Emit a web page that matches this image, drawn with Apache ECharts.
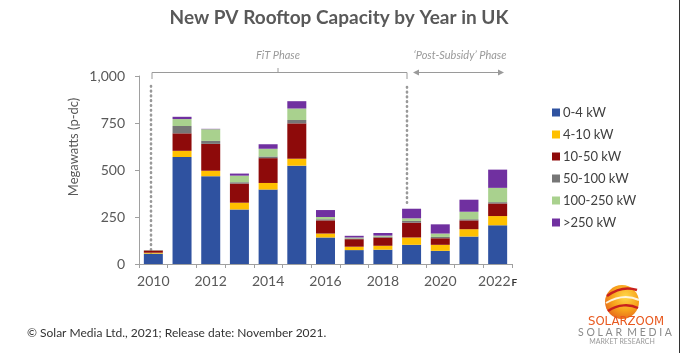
<!DOCTYPE html>
<html>
<head>
<meta charset="utf-8">
<script src="https://cdn.jsdelivr.net/npm/echarts@6/dist/echarts.min.js"></script>
<style>
  html, body { margin: 0; padding: 0; background: #fff; }
  #chart { width: 680px; height: 353px; }
</style>
</head>
<body>
<div id="chart"></div>
<script>
'use strict';
// 数据
const years = ['2010', '2011', '2012', '2013', '2014', '2015', '2016', '2017', '2018', '2019', '2020', '2021', '2022F'];
const kw0_4 = [55, 569, 467, 290, 396, 523, 141, 74, 76, 102, 70, 146, 206];
const kw4_10 = [5, 33, 29, 36, 35, 37, 21, 18, 21, 39, 32, 39, 49];
const kw10_50 = [12, 93, 143, 102, 132, 188, 70, 40, 44, 79, 35, 47, 67];
const kw50_100 = [1, 39, 16, 7, 9, 18, 6, 4, 4, 9, 7, 6, 7];
const kw100_250 = [1, 37, 62, 35, 41, 61, 12, 5, 6, 14, 18, 40, 76];
const kw250 = [0, 12, 2, 11, 24, 39, 37, 9, 14, 51, 49, 64, 97];
const yTicks = [0, 250, 500, 750, 1000];

const seriesList = [
    { name: '0-4 kW', data: kw0_4, color: '#2F52A0' },
    { name: '4-10 kW', data: kw4_10, color: '#FFC000' },
    { name: '10-50 kW', data: kw10_50, color: '#8E0A0A' },
    { name: '50-100 kW', data: kw50_100, color: '#767676' },
    { name: '100-250 kW', data: kw100_250, color: '#A9D18E' },
    { name: '>250 kW', data: kw250, color: '#7030A0' }
];

const FONT = 'Lato, "Open Sans", sans-serif';
const grey = '#595959';
const annot = '#9a9a9a';

let myChart = echarts.init(document.getElementById('chart'));

let option = {
    animation: false,
    textStyle: { fontFamily: FONT },
    title: {
        text: 'New PV Rooftop Capacity by Year in UK',
        left: 334,
        top: 3,
        textAlign: 'center',
        textStyle: { fontSize: 19, fontWeight: 'bold', color: grey, fontFamily: FONT }
    },
    legend: {
        orient: 'vertical',
        left: 547,
        top: 101,
        itemWidth: 8,
        itemHeight: 8,
        itemGap: 9,
        icon: 'rect',
        textStyle: { fontSize: 13, color: '#404040', fontFamily: FONT, padding: [0, 0, 0, -2] },
        data: seriesList.map(s => s.name)
    },
    grid: { left: 139, right: 168, top: 76, bottom: 89 },
    xAxis: {
        type: 'category',
        data: years,
        axisLine: { lineStyle: { color: '#a0a0a0', width: 1 } },
        axisTick: { show: true, interval: 0, length: 4, lineStyle: { color: '#a0a0a0' } },
        axisLabel: {
            interval: 1,
            margin: 10,
            fontSize: 14,
            color: grey,
            fontFamily: FONT,
            formatter: function(v) {
                if (v === '2022F') return '{y|2022}{f|F}';
                return '{y|' + v + '}';
            },
            rich: {
                y: { fontSize: 14, color: grey, fontFamily: FONT },
                f: { fontSize: 10, fontWeight: 'bold', color: '#333', fontFamily: FONT, padding: [3, 0, 0, 1] }
            }
        }
    },
    yAxis: {
        type: 'value',
        min: yTicks[0],
        max: yTicks[yTicks.length - 1],
        interval: yTicks[1] - yTicks[0],
        axisLine: { show: true, lineStyle: { color: '#a0a0a0' } },
        axisTick: { show: true, length: 4, lineStyle: { color: '#a0a0a0' } },
        splitLine: { show: false },
        axisLabel: {
            fontSize: 14,
            color: grey,
            margin: 14,
            fontFamily: FONT,
            formatter: function(v) {
                return v.toLocaleString('en-US');
            }
        }
    },
    series: seriesList.map(function(s) {
        return {
            name: s.name,
            type: 'bar',
            stack: 'total',
            barWidth: 19,
            data: s.data,
            itemStyle: { color: s.color }
        };
    }),
    graphic: [
        // 纵轴标题
        {
            type: 'text',
            x: 74,
            y: 147,
            rotation: Math.PI / 2,
            style: {
                text: 'Megawatts (p-dc)',
                fontSize: 13,
                fill: grey,
                fontFamily: FONT,
                align: 'center',
                verticalAlign: 'middle'
            }
        },
        // FiT 阶段
        {
            type: 'text',
            x: 278, y: 55,
            style: { text: 'FiT Phase', fontSize: 11, fontStyle: 'italic', fill: annot, fontFamily: FONT, align: 'center', verticalAlign: 'middle' }
        },
        {
            type: 'polyline',
            shape: { points: [[152, 79], [152, 72.5], [407, 72.5], [407, 79]] },
            style: { stroke: annot, lineWidth: 1, fill: null }
        },
        {
            type: 'line',
            shape: { x1: 278, y1: 72.5, x2: 278, y2: 68 },
            style: { stroke: annot, lineWidth: 1 }
        },
        // 补贴后阶段
        {
            type: 'text',
            x: 460, y: 55,
            style: { text: '\u2018Post-Subsidy\u2019 Phase', fontSize: 11, fontStyle: 'italic', fill: annot, fontFamily: FONT, align: 'center', verticalAlign: 'middle' }
        },
        {
            type: 'line',
            shape: { x1: 416, y1: 72.5, x2: 501, y2: 72.5 },
            style: { stroke: annot, lineWidth: 1 }
        },
        {
            type: 'polygon',
            shape: { points: [[413, 72.5], [419, 69.5], [419, 75.5]] },
            style: { fill: annot }
        },
        {
            type: 'polygon',
            shape: { points: [[504, 72.5], [498, 69.5], [498, 75.5]] },
            style: { fill: annot }
        },
        // 虚线
        {
            type: 'line',
            shape: { x1: 151, y1: 86, x2: 151, y2: 262 },
            style: { stroke: '#999', lineWidth: 2.6, lineDash: [0.6, 4.2], lineCap: 'round' }
        },
        {
            type: 'line',
            shape: { x1: 407, y1: 87, x2: 407, y2: 204 },
            style: { stroke: '#999', lineWidth: 2.6, lineDash: [0.6, 4.2], lineCap: 'round' }
        },
        // 页脚
        {
            type: 'text',
            x: 27, y: 333,
            style: { text: '\u00a9 Solar Media Ltd., 2021; Release date: November 2021.', fontSize: 12, fill: '#333', fontFamily: FONT, verticalAlign: 'middle' }
        },
        // logo
        {
            type: 'circle',
            shape: { cx: 622, cy: 302, r: 17 },
            style: {
                fill: new echarts.graphic.RadialGradient(0.6, 0.35, 0.8, [
                    { offset: 0, color: '#ffd84a' },
                    { offset: 0.5, color: '#f7a21b' },
                    { offset: 1, color: '#e0531c' }
                ])
            }
        },
        {
            type: 'bezierCurve',
            shape: { x1: 607, y1: 296, x2: 637, y2: 290, cpx1: 618, cpy1: 288, cpx2: 628, cpy2: 287 },
            style: { stroke: '#c8201e', lineWidth: 2.5, fill: null }
        },
        {
            type: 'bezierCurve',
            shape: { x1: 606, y1: 303, x2: 639, y2: 300, cpx1: 618, cpy1: 296, cpx2: 630, cpy2: 296 },
            style: { stroke: '#fff4dc', lineWidth: 2, fill: null }
        },
        {
            type: 'bezierCurve',
            shape: { x1: 608, y1: 311, x2: 638, y2: 308, cpx1: 618, cpy1: 304, cpx2: 630, cpy2: 304 },
            style: { stroke: '#c8201e', lineWidth: 2.5, fill: null }
        },
        {
            type: 'text',
            x: 626, y: 322,
            style: { text: 'SOLARZOOM', fontSize: 13, fill: '#e8581e', fontFamily: '"DejaVu Sans Condensed", "DejaVu Sans", sans-serif', align: 'center', verticalAlign: 'middle' }
        },
        {
            type: 'text',
            x: 625, y: 333,
            style: { text: 'S O L A R  M E D I A', fontSize: 10.5, fill: '#8a8a8a', fontFamily: FONT, align: 'center', verticalAlign: 'middle' }
        },
        {
            type: 'text',
            x: 622, y: 342,
            style: { text: 'MARKET RESEARCH', fontSize: 7, fill: '#9a9a9a', fontFamily: FONT, align: 'center', verticalAlign: 'middle' }
        },
        // 右边框
        {
            type: 'line',
            shape: { x1: 679.5, y1: 0, x2: 679.5, y2: 353 },
            style: { stroke: '#333', lineWidth: 1 }
        }
    ]
};

myChart.setOption(option);
</script>
</body>
</html>
